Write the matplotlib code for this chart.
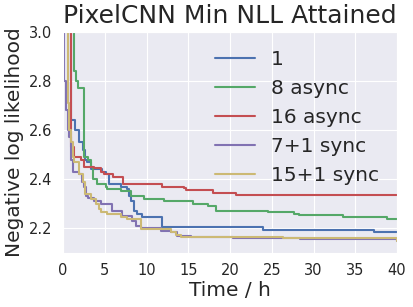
import matplotlib
matplotlib.use("Agg")
import matplotlib.pyplot as plt
import seaborn as sns

sns.set_style("darkgrid")
plt.rcParams['font.family'] = ['DejaVu Sans']

# hours / negative log likelihood (step corners)
t_1 = [0, 0.6, 0.96, 1.43, 1.95, 2.35, 2.6, 2.9, 3.35, 4.7, 5.1, 5.5, 6.9, 7.1, 7.7, 7.9, 8.1, 8.5,
       8.9, 9.5, 11.9, 24.0, 37.2, 40]
nll_1 = [3.5, 3.0, 2.64, 2.60, 2.55, 2.52, 2.48, 2.47, 2.44, 2.43, 2.42, 2.38, 2.37, 2.37, 2.36, 2.33,
         2.31, 2.27, 2.26, 2.245, 2.205, 2.195, 2.187, 2.187]

t_8 = [0, 0.3, 1.2, 1.3, 1.55, 1.75, 2.45, 2.55, 3.0, 3.35, 3.55, 4.1, 5.1, 5.3, 6.9, 8.1, 9.7, 12.1,
       15.6, 17.4, 18.3, 24.6, 27.6, 28.2, 33.5, 38.8, 40]
nll_8 = [3.5, 3.1, 3.05, 2.84, 2.80, 2.77, 2.77, 2.49, 2.48, 2.45, 2.40, 2.38, 2.37, 2.36, 2.35, 2.33,
         2.32, 2.31, 2.30, 2.29, 2.27, 2.265, 2.258, 2.254, 2.245, 2.238, 2.238]

t_16 = [0, 0.7, 1.0, 1.3, 2.15, 2.5, 3.7, 4.5, 4.9, 6.0, 7.2, 11.8, 14.5, 14.7, 18.0, 20.7, 40]
nll_16 = [3.5, 3.0, 2.53, 2.49, 2.48, 2.45, 2.447, 2.43, 2.42, 2.41, 2.38, 2.37, 2.365, 2.355, 2.345,
          2.335, 2.335]

t_7s = [0, 0.15, 0.36, 0.56, 0.75, 0.96, 1.15, 1.95, 2.23, 2.55, 2.75, 2.95, 3.75, 4.5, 5.9, 7.1,
        8.3, 8.7, 9.3, 11.7, 12.9, 13.7, 15.3, 20.4, 28.4, 40]
nll_7s = [3.5, 2.80, 2.68, 2.60, 2.57, 2.48, 2.43, 2.42, 2.39, 2.37, 2.33, 2.325, 2.31, 2.30, 2.27,
          2.25, 2.23, 2.21, 2.20, 2.19, 2.185, 2.17, 2.165, 2.16, 2.157, 2.15]

t_15s = [0, 0.4, 0.56, 0.75, 0.96, 1.15, 1.35, 1.95, 2.35, 2.6, 3.35, 3.9, 4.35, 4.55, 5.3, 6.9, 7.7,
         9.3, 12.9, 13.5, 14.1, 26.4, 40]
nll_15s = [3.5, 3.0, 2.71, 2.60, 2.55, 2.49, 2.47, 2.42, 2.39, 2.34, 2.32, 2.30, 2.28, 2.265, 2.26,
           2.245, 2.24, 2.198, 2.185, 2.172, 2.165, 2.16, 2.15]

series = [("1", t_1, nll_1, "#4C72B0"),
          ("8 async", t_8, nll_8, "#55A868"),
          ("16 async", t_16, nll_16, "#C44E52"),
          ("7+1 sync", t_7s, nll_7s, "#8172B2"),
          ("15+1 sync", t_15s, nll_15s, "#CCB974")]

fig = plt.figure(figsize=(4.13, 3.07), dpi=100)
ax = fig.add_axes([0.1525, 0.176, 0.809, 0.721])

for name, t, v, c in series:
    ax.plot(t, v, drawstyle="steps-post", color=c, lw=1.5, label=name)

ax.set_xlim(0, 40)
ax.set_ylim(2.1, 3.0)
ax.set_xticks(range(0, 41, 5))
ax.set_yticks([2.2, 2.4, 2.6, 2.8, 3.0])
ax.tick_params(labelsize=10.5, colors="#262626", pad=4)

ax.set_title("PixelCNN Min NLL Attained", fontsize=18, color="#262626")
ax.set_xlabel("Time / h", fontsize=14.5, color="#262626", labelpad=2)
ax.set_ylabel("Negative log likelihood", fontsize=14.5, color="#262626", labelpad=4)

ax.legend(loc="upper right", fontsize=14.5, frameon=False)

fig.savefig("out.png")
